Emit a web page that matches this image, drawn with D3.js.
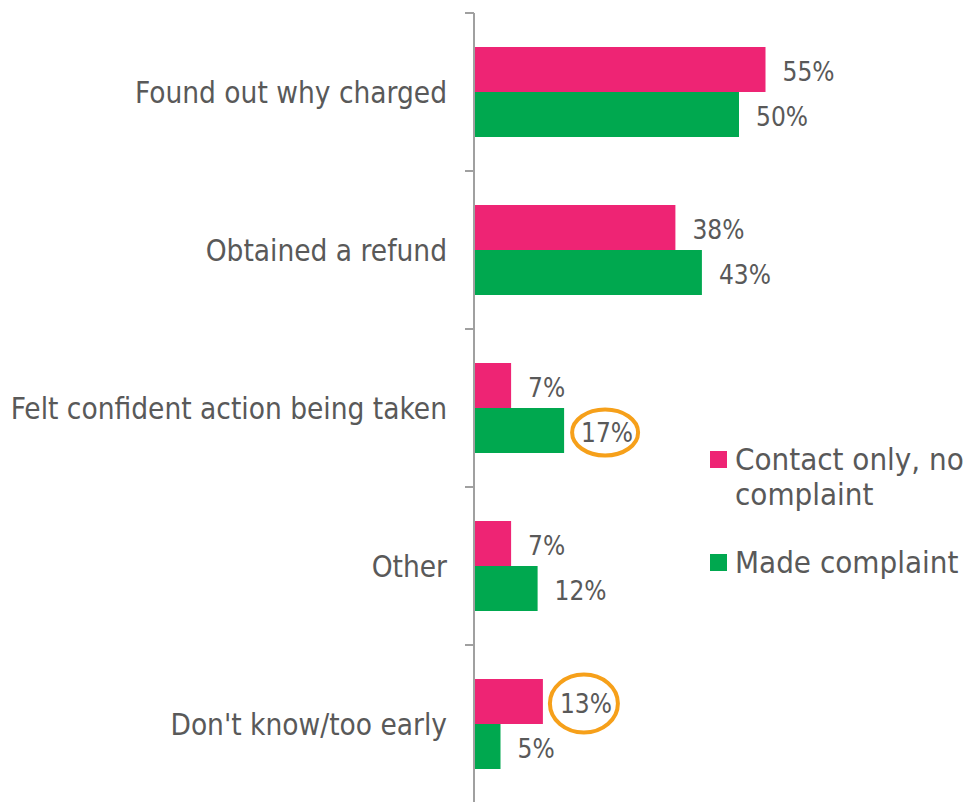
<!DOCTYPE html>
<html>
<head>
<meta charset="utf-8">
<script src="https://cdn.jsdelivr.net/npm/d3@7"></script>
<style>
  body { margin: 0; background: #fff; }
  svg text { font-family: "DejaVu Sans Condensed", "DejaVu Sans", sans-serif; fill: #595959; }
</style>
</head>
<body>
<svg id="chart" width="974" height="802"></svg>
<script>
// Chart data
const categories = ["Found out why charged", "Obtained a refund", "Felt confident action being taken", "Other", "Don't know/too early"];
const seriesNames = ["Contact only, no complaint", "Made complaint"];
const contactOnly = [55, 38, 7, 7, 13];
const madeComplaint = [50, 43, 17, 12, 5];
// circled values: [category, series]
const highlights = [
    { cat: "Felt confident action being taken", series: "Made complaint", rx: 33, ry: 23 },
    { cat: "Don't know/too early", series: "Contact only, no complaint", rx: 34, ry: 29 }
];

const colors = { "Contact only, no complaint": "#EE2474", "Made complaint": "#00A84F" };

const svg = d3.select("#chart");
const labelSize = 29.5;
const valueSize = 26;
const legendSize = 31;

const y = d3.scaleBand().domain(categories).range([13, 803]);
const ySub = d3.scaleBand().domain(seriesNames).range([34, 124]);
const x = d3.scaleLinear().domain([0, 100]).range([474, 1004]);

const rows = categories.map((c, i) => ({
    cat: c,
    values: [
        { series: seriesNames[0], value: contactOnly[i] },
        { series: seriesNames[1], value: madeComplaint[i] }
    ]
}));

// Bars
const groups = svg.selectAll(".cat")
    .data(rows)
    .enter().append("g")
    .attr("class", "cat")
    .attr("transform", d => `translate(0,${y(d.cat)})`);

groups.selectAll("rect")
    .data(d => d.values)
    .enter().append("rect")
    .attr("x", x(0))
    .attr("y", d => ySub(d.series))
    .attr("width", d => x(d.value) - x(0))
    .attr("height", ySub.bandwidth())
    .attr("fill", d => colors[d.series]);

// Value labels
groups.selectAll("text.val")
    .data(d => d.values)
    .enter().append("text")
    .attr("class", "val")
    .attr("x", d => x(d.value) + 17)
    .attr("y", d => ySub(d.series) + ySub.bandwidth() / 2 + 2)
    .attr("dy", "0.36em")
    .style("font-size", valueSize + "px")
    .text(d => d.value + "%");

// Orange circles round highlighted values
highlights.forEach(h => {
    const i = categories.indexOf(h.cat);
    const v = h.series === seriesNames[0] ? contactOnly[i] : madeComplaint[i];
    svg.append("ellipse")
        .attr("cx", x(v) + 41)
        .attr("cy", y(h.cat) + ySub(h.series) + ySub.bandwidth() / 2 + 2)
        .attr("rx", h.rx)
        .attr("ry", h.ry)
        .attr("fill", "none")
        .attr("stroke", "#F6A01A")
        .attr("stroke-width", 4);
});

// Axis
const axis = svg.append("g").attr("transform", `translate(${x(0)},0)`);
axis.append("line")
    .attr("x1", 0).attr("x2", 0)
    .attr("y1", 13).attr("y2", 802)
    .attr("stroke", "#A0A0A0").attr("stroke-width", 2);
axis.selectAll(".tick")
    .data(categories)
    .enter().append("line")
    .attr("x1", -9).attr("x2", 0)
    .attr("y1", d => y(d)).attr("y2", d => y(d))
    .attr("stroke", "#A0A0A0").attr("stroke-width", 2);

// Category labels
svg.selectAll(".catlabel")
    .data(categories)
    .enter().append("text")
    .attr("class", "catlabel")
    .attr("x", 447)
    .attr("y", d => y(d) + y.bandwidth() / 2)
    .attr("dy", "0.36em")
    .attr("text-anchor", "end")
    .style("font-size", labelSize + "px")
    .text(d => d);

// Legend
const legendItems = [
    { series: seriesNames[0], lines: ["Contact only, no", "complaint"], y: 451 },
    { series: seriesNames[1], lines: ["Made complaint"], y: 554 }
];
const legend = svg.selectAll(".legend")
    .data(legendItems)
    .enter().append("g")
    .attr("class", "legend")
    .attr("transform", d => `translate(710,${d.y})`);
legend.append("rect")
    .attr("width", 17).attr("height", 17)
    .attr("fill", d => colors[d.series]);
legend.append("text")
    .style("font-size", legendSize + "px")
    .selectAll("tspan")
    .data(d => d.lines)
    .enter().append("tspan")
    .attr("x", 25)
    .attr("y", (d, i) => 19 + i * 35)
    .text(d => d);
</script>
</body>
</html>
